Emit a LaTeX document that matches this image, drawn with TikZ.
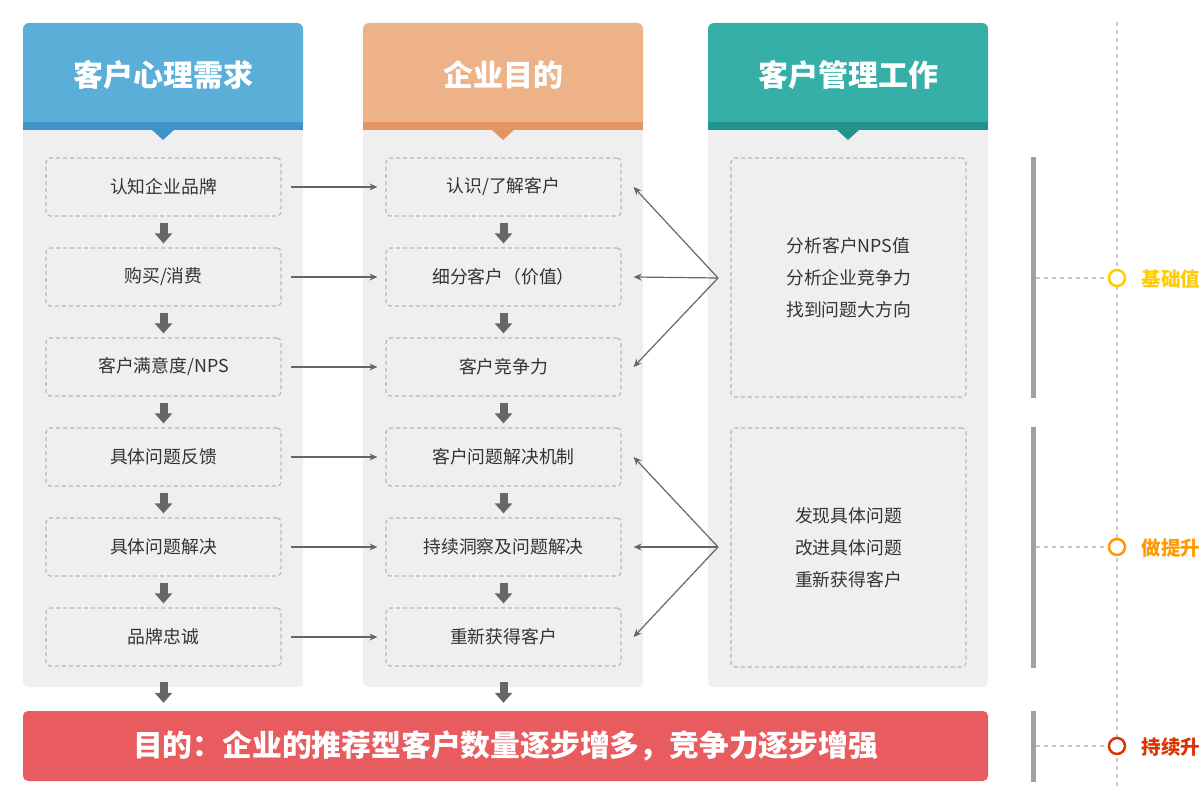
\documentclass[tikz,border=0pt]{standalone}
\usepackage{fontspec}
\setmainfont{Noto Sans CJK SC}
\newfontfamily\cjk{Noto Sans CJK SC}
\usetikzlibrary{arrows.meta,calc}
\definecolor{panelbg}{HTML}{EFEFEF}
\definecolor{hblue}{HTML}{5AAED8}
\definecolor{bblue}{HTML}{3E94C8}
\definecolor{horange}{HTML}{EDB287}
\definecolor{borange}{HTML}{E39462}
\definecolor{hteal}{HTML}{36AFA9}
\definecolor{bteal}{HTML}{22948D}
\definecolor{dashgray}{HTML}{B8B8B8}
\definecolor{txt}{HTML}{333333}
\definecolor{arr}{HTML}{666666}
\definecolor{goalred}{HTML}{E85C5F}
\definecolor{bargray}{HTML}{A0A0A0}
\definecolor{lightdash}{HTML}{C8C8C8}
\definecolor{cyellow}{HTML}{FFCC00}
\definecolor{corange}{HTML}{FF9900}
\definecolor{cred}{HTML}{DD3300}
\tikzset{
  dbox/.style={draw=dashgray, dash pattern=on 4pt off 3pt, line width=1.2pt, rounded corners=4pt,
    minimum width=235pt, minimum height=58pt, text=txt, font=\cjk\fontsize{17.8}{20}\selectfont, inner sep=0pt},
  bigbox/.style={dbox, minimum height=239pt, align=center, font=\cjk\fontsize{17.8}{32}\selectfont},
  htitle/.style={text=white, font=\cjk\bfseries\fontsize{30}{34}\selectfont},
  blk/.style={draw=arr, line width=8pt, -{Triangle[width=17pt,length=10pt]}},
  thinarr/.style={draw=arr, line width=1.2pt, -{Stealth[length=8pt,width=7pt]}},
  circ/.style={circle, fill=white, line width=2.5pt, minimum size=16pt, inner sep=0pt},
  lvl/.style={anchor=west, font=\cjk\bfseries\fontsize{19.5}{22}\selectfont},
  vbar/.style={draw=bargray, line width=5pt},
  ldash/.style={draw=lightdash, line width=1.2pt, dash pattern=on 4pt off 4pt},
}
\begin{document}
\begin{tikzpicture}[x=1pt,y=-1pt]
\useasboundingbox (0,0) rectangle (1204,802);
% panels
\foreach \x in {23,363,708}{
  \fill[panelbg, rounded corners=5pt] (\x,30) rectangle (\x+280,687);
}
% headers
\fill[hblue, rounded corners=6pt] (23,23) rectangle (303,130);
\fill[bblue] (23,122) rectangle (303,130);
\fill[bblue] (151,129) -- (175,129) -- (163,140) -- cycle;
\fill[horange, rounded corners=6pt] (363,23) rectangle (643,130);
\fill[borange] (363,122) rectangle (643,130);
\fill[borange] (491,129) -- (515,129) -- (503,140) -- cycle;
\fill[hteal, rounded corners=6pt] (708,23) rectangle (988,130);
\fill[bteal] (708,122) rectangle (988,130);
\fill[bteal] (836,129) -- (860,129) -- (848,140) -- cycle;
\node[htitle] (h1) at (163,75) {客户心理需求};
\node[htitle] (h2) at (503,75) {企业目的};
\node[htitle] (h3) at (848,75) {客户管理工作};
% left column
\node[dbox] (l1) at (163.5,187) {认知企业品牌};
\node[dbox] (l2) at (163.5,277) {购买/消费};
\node[dbox] (l3) at (163.5,367) {客户满意度/NPS};
\node[dbox] (l4) at (163.5,457) {具体问题反馈};
\node[dbox] (l5) at (163.5,547) {具体问题解决};
\node[dbox] (l6) at (163.5,637) {品牌忠诚};
% middle column
\node[dbox] (m1) at (503.5,187) {认识/了解客户};
\node[dbox] (m2) at (503.5,277) {细分客户（价值）};
\node[dbox] (m3) at (503.5,367) {客户竞争力};
\node[dbox] (m4) at (503.5,457) {客户问题解决机制};
\node[dbox] (m5) at (503.5,547) {持续洞察及问题解决};
\node[dbox] (m6) at (503.5,637) {重新获得客户};
% right column
\node[bigbox] (r1) at (848.5,277.5) {分析客户NPS值\\分析企业竞争力\\找到问题大方向};
\node[bigbox] (r2) at (848.5,547.5) {发现具体问题\\改进具体问题\\重新获得客户};
% goal bar
\node[fill=goalred, rounded corners=5pt, minimum width=965pt, minimum height=70pt, inner sep=0pt,
  text=white, font=\cjk\bfseries\fontsize{29.8}{32}\selectfont] (goal) at (505.5,746)
  {目的：企业的推荐型客户数量逐步增多，竞争力逐步增强};
% block arrows
\foreach \c in {l,m}{
  \foreach \a/\b in {1/2,2/3,3/4,4/5,5/6}{
    \draw[blk, shorten <=6pt, shorten >=4pt] (\c\a.south) -- (\c\b.north);
  }
  \draw[blk, shorten >=8pt] ($(\c6.south)+(0,15)$) -- (\c6.south |- goal.north);
}
% horizontal arrows
\foreach \i in {1,...,6}{
  \draw[thinarr, shorten <=9pt, shorten >=8pt] (l\i.east) -- (m\i.west);
}
% fan arrows
\coordinate (p1) at (718,278);
\coordinate (p2) at (718,547);
\draw[thinarr] (p1) -- ([xshift=12pt]m1.east);
\draw[thinarr] (p1) -- ([xshift=12pt]m2.east);
\draw[thinarr] (p1) -- ([xshift=12pt]m3.east);
\draw[thinarr] (p2) -- ([xshift=12pt]m4.east);
\draw[thinarr] (p2) -- ([xshift=12pt]m5.east);
\draw[thinarr] (p2) -- ([xshift=12pt]m6.east);
% right timeline
\draw[ldash] (1117,22) -- (1117,786);
\draw[vbar] (1033,157) -- (1033,398);
\draw[vbar] (1033,427) -- (1033,668);
\draw[vbar] (1033,711) -- (1033,782);
\coordinate (b1) at (1036,278);
\coordinate (b2) at (1036,547);
\coordinate (b3) at (1036,746);
\node[circ, draw=cyellow] (c1) at (1117,278) {};
\node[circ, draw=corange] (c2) at (1117,547) {};
\node[circ, draw=cred] (c3) at (1117,746) {};
\draw[ldash] (b1) -- (c1.west);
\draw[ldash] (b2) -- (c2.west);
\draw[ldash] (b3) -- (c3.west);
\node[lvl, text=cyellow] (t1) at (1138,279) {基础值};
\node[lvl, text=corange] (t2) at (1138,548) {做提升};
\node[lvl, text=cred] (t3) at (1138,747) {持续升};
\end{tikzpicture}
\end{document}
